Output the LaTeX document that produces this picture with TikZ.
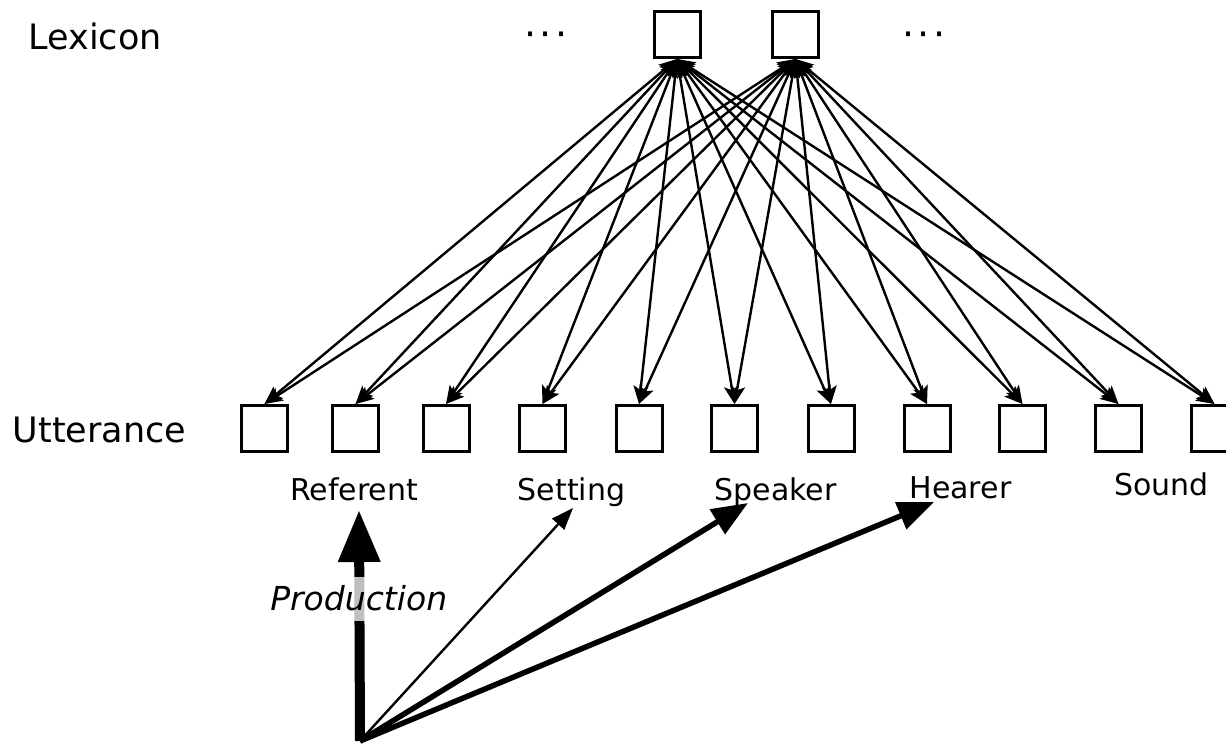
\documentclass[tikz,border=0pt]{standalone}
\usepackage{fontspec}
\setmainfont{DejaVu Sans}
\usetikzlibrary{arrows.meta}

\begin{document}
\begin{tikzpicture}[x=1pt,y=-1pt,
  unit/.style={draw, line width=3pt, minimum size=46pt, inner sep=0pt},
  link/.style={line width=2.4pt,
    {Stealth[length=18pt,width=15pt,inset=4pt]}-{Stealth[length=18pt,width=15pt,inset=4pt]}},
  level/.style={font=\fontsize{35}{42}\selectfont, anchor=base west, inner sep=0pt},
  role/.style={font=\fontsize{30}{36}\selectfont, anchor=base, inner sep=0pt},
  ellip/.style={font=\fontsize{38}{44}\selectfont, anchor=base, inner sep=0pt},
]
\useasboundingbox (0,0) rectangle (1226,744);

% level names
\node[level] (lexlabel) at (28.5,49) {Lexicon};
\node[level] (uttlabel) at (12.5,442) {Utterance};

% lexicon units
\node[unit] (lex1) at (677,34.5) {};
\node[unit] (lex2) at (795.5,34.5) {};
\node[ellip] (moreL) at (546,47) {·\kern3pt·\kern3pt·};
\node[ellip] (moreR) at (924,47) {·\kern3pt·\kern3pt·};

% utterance units
\foreach \i/\x in {1/264.5, 2/355.5, 3/446, 4/542.5, 5/639, 6/734.5,
                   7/831, 8/927, 9/1022.5, 10/1118.5, 11/1214.5}
  \node[unit] (utt\i) at (\x,428.5) {};

% every lexicon unit is linked with every utterance unit
\foreach \i in {1,...,11} {
  \draw[link] (lex1.south) -- (utt\i.north);
  \draw[link] (lex2.south) -- (utt\i.north);
}

% utterance components
\node[role] (referent) at (354,500) {Referent};
\node[role] (setting) at (571.5,500) {Setting};
\node[role] (speaker) at (775.5,500) {Speaker};
\node[role] (hearer) at (960.5,498) {Hearer};
\node[role] (sound) at (1161.5,495) {Sound};

% production fan
\coordinate (origin) at (360,741);
\coordinate (atReferent) at (359,510);
\coordinate (atSetting) at (573,508);
\coordinate (atSpeaker) at (748,503);
\coordinate (atHearer) at (934,502);
\draw[line width=10pt, -{Triangle[length=52pt,width=40pt]}] (origin) -- (atReferent);
\draw[line width=2.4pt, -{Triangle[length=22pt,width=16pt]}] (origin) -- (atSetting);
\draw[line width=5.5pt, -{Triangle[length=36pt,width=28pt]}] (origin) -- (atSpeaker);
\draw[line width=5.5pt, -{Triangle[length=36pt,width=28pt]}] (origin) -- (atHearer);

\node[font=\fontsize{33}{40}\selectfont\itshape, fill=white, fill opacity=0.75,
      text opacity=1, inner xsep=2pt, inner ysep=0pt, text height=33pt,
      text depth=11pt, anchor=base] (production) at (358.7,610) {Production};
\end{tikzpicture}
\end{document}
